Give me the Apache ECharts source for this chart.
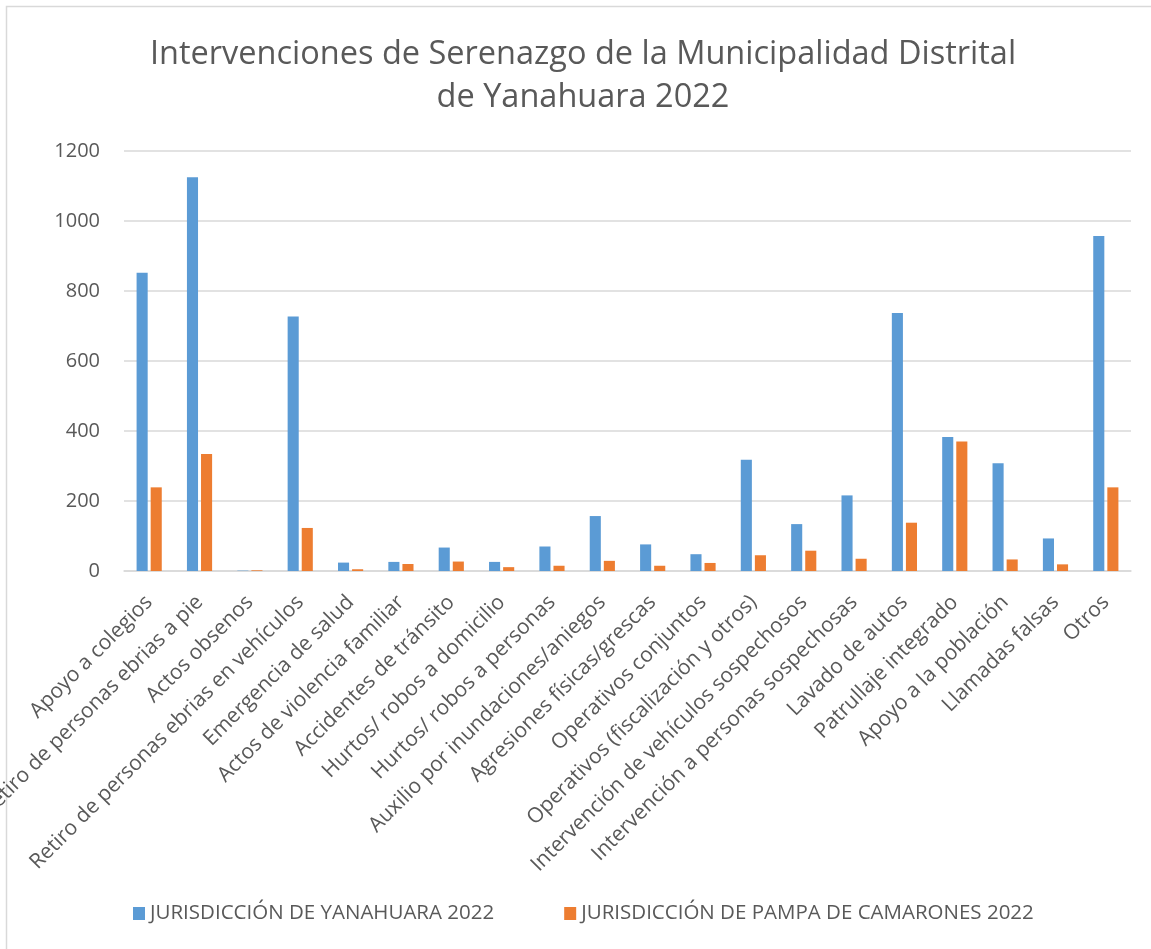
<!DOCTYPE html>
<html>
<head>
<meta charset="utf-8">
<script src="https://cdn.jsdelivr.net/npm/echarts@6/dist/echarts.min.js"></script>
<style>html,body{margin:0;padding:0;background:#fff;}#c{width:1151px;height:949px;}</style>
</head>
<body>
<div id="c"></div>
<script>
const categories = [
  "Apoyo a colegios",
  "Retiro de personas ebrias a pie",
  "Actos obsenos",
  "Retiro de personas ebrias en vehículos",
  "Emergencia de salud",
  "Actos de violencia familiar",
  "Accidentes de tránsito",
  "Hurtos/ robos a domicilio",
  "Hurtos/ robos a personas",
  "Auxilio por inundaciones/aniegos",
  "Agresiones físicas/grescas",
  "Operativos conjuntos",
  "Operativos (fiscalización y otros)",
  "Intervención de vehículos sospechosos",
  "Intervención a personas sospechosas",
  "Lavado de autos",
  "Patrullaje integrado",
  "Apoyo a la población",
  "Llamadas falsas",
  "Otros"
];
const yanahuara = [852, 1125, 1, 727, 24, 26, 67, 26, 70, 157, 76, 48, 318, 134, 216, 737, 383, 308, 93, 957];
const pampa = [239, 334, 2, 123, 5, 20, 27, 11, 15, 29, 15, 23, 45, 58, 35, 138, 370, 33, 19, 239];
const seriesNames = ["JURISDICCIÓN DE YANAHUARA 2022", "JURISDICCIÓN DE PAMPA DE CAMARONES 2022"];

const FONT = "Open Sans";
const chart = echarts.init(document.getElementById('c'), null, {renderer: 'canvas'});
chart.setOption({
  backgroundColor: '#ffffff',
  animation: false,
  textStyle: {fontFamily: FONT},
  graphic: [{
    type: 'rect', silent: true, z: -1,
    shape: {x: 6.5, y: 6.5, width: 1300, height: 1100},
    style: {fill: 'none', stroke: '#d9d9d9', lineWidth: 1.5}
  }],
  title: {
    text: 'Intervenciones de Serenazgo de la Municipalidad Distrital\nde Yanahuara 2022',
    left: 578, top: 28, textAlign: 'center',
    textStyle: {fontFamily: FONT, fontSize: 32.5, fontWeight: 'normal', color: '#595959', lineHeight: 43}
  },
  legend: {
    bottom: 20, left: 128, itemGap: 70,
    icon: 'rect', itemWidth: 12, itemHeight: 13,
    textStyle: {fontFamily: FONT, fontSize: 20.5, color: '#595959'},
    data: seriesNames
  },
  grid: {left: 124, right: 20, top: 151, bottom: 378, containLabel: false, outerBoundsMode: 'none'},
  xAxis: {
    type: 'category', data: categories,
    axisLine: {lineStyle: {color: '#d9d9d9', width: 1.5}},
    axisTick: {show: false},
    axisLabel: {rotate: 45, interval: 0, fontFamily: FONT, fontSize: 21, color: '#595959', margin: 28}
  },
  yAxis: {
    type: 'value', min: 0, max: 1200, interval: 200,
    axisLine: {show: false}, axisTick: {show: false},
    splitLine: {lineStyle: {color: '#d9d9d9', width: 1.5}},
    axisLabel: {fontFamily: FONT, fontSize: 20, color: '#595959', margin: 24, formatter: function (v) { return String(v); }}
  },
  series: [
    {name: seriesNames[0], type: 'bar', data: yanahuara, barGap: '27%', barCategoryGap: '50%',
     itemStyle: {color: '#5B9BD5'}},
    {name: seriesNames[1], type: 'bar', data: pampa, barGap: '27%', barCategoryGap: '50%',
     itemStyle: {color: '#ED7D31'}}
  ]
});
</script>
</body>
</html>
